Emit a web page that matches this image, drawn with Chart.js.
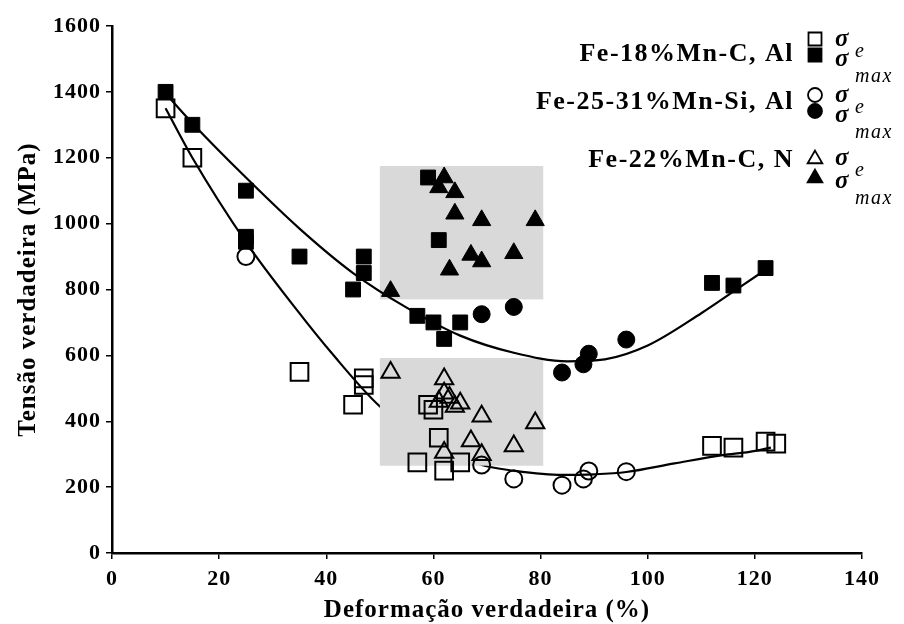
<!DOCTYPE html>
<html>
<head>
<meta charset="utf-8">
<script src="https://cdn.jsdelivr.net/npm/chart.js@4.4.0/dist/chart.umd.min.js"></script>
<style>
  html, body { margin: 0; padding: 0; background: #fff; }
</style>
</head>
<body>
<canvas id="stressChart" width="904" height="624"></canvas>
<script>
// ── Data ──────────────────────────────────────────────────────────────────────
// Fe-18%Mn-C, Al  (squares)
const sqYieldX = [10, 15, 35, 47, 47, 45, 59, 60, 61, 57, 62, 65, 112, 116, 122, 124];
const sqYieldY = [1350, 1200, 550, 530, 510, 450, 450, 435, 350, 275, 250, 275, 325, 320, 338, 332];
const sqMaxX   = [10, 15, 25, 25, 25, 35, 47, 47, 45, 57, 60, 62, 65, 59, 61, 112, 116, 122];
const sqMaxY   = [1400, 1300, 1100, 960, 945, 900, 900, 850, 800, 720, 700, 650, 700, 1140, 950, 820, 812, 865];

// Fe-25-31%Mn-Si, Al  (circles)
const ciYieldX = [25, 69, 75, 84, 88, 89, 96];
const ciYieldY = [900, 267, 225, 206, 225, 249, 247];
const ciMaxX   = [69, 75, 84, 88, 89, 96];
const ciMaxY   = [725, 747, 548, 573, 605, 648];

// Fe-22%Mn-C, N  (triangles)
const trYieldX = [52, 62, 62, 63, 61, 64, 65, 69, 79, 67, 75, 62, 69];
const trYieldY = [548, 528, 485, 472, 460, 445, 455, 415, 395, 340, 325, 305, 298];
const trMaxX   = [52, 62, 61, 64, 64, 69, 79, 63, 67, 69, 75];
const trMaxY   = [795, 1140, 1110, 1095, 1030, 1010, 1010, 860, 905, 885, 910];

// trend curves
const maxCurveX = [10, 15, 25, 35, 45, 55, 65, 75, 85, 92, 100, 110, 117, 122];
const maxCurveY = [1395, 1305, 1140, 985, 850, 745, 660, 608, 582, 588, 630, 728, 805, 860];
const yieldCurveX = [10, 15, 25, 34.5, 41, 50, 60, 69, 75, 84, 90, 96, 105, 114, 119, 123];
const yieldCurveY = [1350, 1200, 944, 738, 607, 445, 330, 267, 250, 237, 239, 246, 272, 297, 307, 320];

// shaded boxes  [x0, x1] / [y0, y1]
const upperBoxX = [50, 80.5];
const upperBoxY = [770, 1175];
const lowerBoxX = [50, 80.5];
const lowerBoxY = [265, 592];

// axis ticks and key
const xTicks = [0, 20, 40, 60, 80, 100, 120, 140];
const yTicks = [0, 200, 400, 600, 800, 1000, 1200, 1400, 1600];
const alloyNames = ["Fe-18%Mn-C, Al", "Fe-25-31%Mn-Si, Al", "Fe-22%Mn-C, N"];

// ── helpers ───────────────────────────────────────────────────────────────────
const pts = (xs, ys) => xs.map((x, i) => ({ x: x, y: ys[i] }));
const SERIF = '"Liberation Serif", "Times New Roman", serif';
const SPACING = "1px";   // the original uses a wide serif face

function markerSet(label, xs, ys, shape, filled, radius) {
    return {
        type: "scatter",
        label: label,
        data: pts(xs, ys),
        pointStyle: shape,
        pointRadius: radius,
        pointHoverRadius: radius,
        pointBorderWidth: filled ? 1 : 2,
        pointBorderColor: "#000",
        pointBackgroundColor: filled ? "#000" : "rgba(0,0,0,0)",
        order: 1
    };
}

function drawMark(ctx, shape, x, y, r, filled) {
    ctx.beginPath();
    if (shape === "rect") {
        ctx.rect(x - r, y - r, 2 * r, 2 * r);
    } else if (shape === "circle") {
        ctx.arc(x, y, r, 0, Math.PI * 2);
    } else {
        ctx.moveTo(x, y - r * 1.05);
        ctx.lineTo(x + r * 1.05, y + r * 0.75);
        ctx.lineTo(x - r * 1.05, y + r * 0.75);
        ctx.closePath();
    }
    if (filled) { ctx.fillStyle = "#000"; ctx.fill(); }
    ctx.lineWidth = 1.8;
    ctx.strokeStyle = "#000";
    ctx.stroke();
}

function fillBox(chart, bx, by) {
    const { ctx, scales: { x, y } } = chart;
    const x0 = x.getPixelForValue(bx[0]), x1 = x.getPixelForValue(bx[1]);
    const y0 = y.getPixelForValue(by[1]), y1 = y.getPixelForValue(by[0]);
    ctx.save();
    ctx.fillStyle = "#d9d9d9";
    ctx.fillRect(x0, y0, x1 - x0, y1 - y0);
    ctx.restore();
}

// ── plugins ───────────────────────────────────────────────────────────────────
const spacingPlugin = {
    id: "wideText",
    beforeUpdate(chart) { chart.ctx.letterSpacing = SPACING; },
    beforeDraw(chart)   { chart.ctx.letterSpacing = SPACING; }
};

const boxPlugin = {
    id: "boxes",
    beforeDatasetsDraw(chart) {
        fillBox(chart, upperBoxX, upperBoxY);
    },
    beforeDatasetDraw(chart, args) {
        // lower box covers the yield curve but sits under the max curve
        if (args.meta.label === "maxCurve") fillBox(chart, lowerBoxX, lowerBoxY);
    }
};

const keyPlugin = {
    id: "alloyKey",
    afterDraw(chart) {
        const ctx = chart.ctx;
        const shapes = ["rect", "circle", "triangle"];
        const nameY = [54, 102, 160];
        const openY = [39, 95, 158];
        const fillY = [55, 111, 177];
        ctx.save();
        ctx.fillStyle = "#000";
        ctx.textBaseline = "middle";
        alloyNames.forEach((name, i) => {
            ctx.letterSpacing = "1.5px";
            ctx.font = "bold 26px " + SERIF;
            ctx.textAlign = "right";
            ctx.fillText(name, 794, nameY[i]);

            const r = shapes[i] === "rect" ? 6.5 : 7;
            drawMark(ctx, shapes[i], 815, openY[i], r, false);
            drawMark(ctx, shapes[i], 815, fillY[i], r, true);

            ctx.letterSpacing = "0px";
            ctx.textAlign = "left";
            ctx.fillStyle = "#000";
            ctx.font = "bold italic 25px " + SERIF;
            ctx.fillText("σ", 835, openY[i] + 1);
            ctx.fillText("σ", 835, fillY[i] + 5);
            ctx.letterSpacing = "1.5px";
            ctx.font = "italic 20px " + SERIF;
            ctx.fillText("e", 855, openY[i] + 13);
            ctx.fillText("max", 855, fillY[i] + 22);
        });
        ctx.restore();
    }
};

// ── Chart setup ───────────────────────────────────────────────────────────────
const tickFont  = { family: SERIF, size: 22, weight: "bold" };
const titleFont = { family: SERIF, size: 25, weight: "bold" };

const ctx = document.getElementById("stressChart").getContext("2d");
const chart = new Chart(ctx, {
    type: "scatter",
    data: {
        datasets: [
            markerSet("sqYield", sqYieldX, sqYieldY, "rect", false, 12.5),
            markerSet("sqMax", sqMaxX, sqMaxY, "rect", true, 10.5),
            markerSet("ciYield", ciYieldX, ciYieldY, "circle", false, 8.5),
            markerSet("ciMax", ciMaxX, ciMaxY, "circle", true, 8.5),
            markerSet("trYield", trYieldX, trYieldY, "triangle", false, 10.5),
            markerSet("trMax", trMaxX, trMaxY, "triangle", true, 10.5),
            {
                type: "line",
                label: "maxCurve",
                data: pts(maxCurveX, maxCurveY),
                borderColor: "#000",
                borderWidth: 2.2,
                pointRadius: 0,
                fill: false,
                cubicInterpolationMode: "monotone",
                order: 2
            },
            {
                type: "line",
                label: "yieldCurve",
                data: pts(yieldCurveX, yieldCurveY),
                borderColor: "#000",
                borderWidth: 2.2,
                pointRadius: 0,
                fill: false,
                cubicInterpolationMode: "monotone",
                order: 3
            }
        ]
    },
    options: {
        responsive: false,
        animation: false,
        devicePixelRatio: 1,
        layout: { padding: { top: 26, right: 42, left: 0, bottom: 0 } },
        plugins: {
            legend: { display: false },
            tooltip: { enabled: false }
        },
        scales: {
            x: {
                type: "linear",
                min: xTicks[0],
                max: xTicks[xTicks.length - 1],
                afterBuildTicks: s => { s.ticks = xTicks.map(v => ({ value: v })); },
                afterFit: s => { s.height = 71; },
                ticks: { color: "#000", font: tickFont, padding: 7, maxRotation: 0, callback: v => String(v) },
                grid: { drawOnChartArea: false, tickLength: 6, color: "#000", lineWidth: 1.5 },
                border: { color: "#000", width: 2.5 },
                title: {
                    display: true,
                    text: "Deformação verdadeira (%)",
                    color: "#000",
                    font: titleFont,
                    padding: { top: 0, bottom: -2 }
                }
            },
            y: {
                type: "linear",
                min: yTicks[0],
                max: yTicks[yTicks.length - 1],
                afterBuildTicks: s => { s.ticks = yTicks.map(v => ({ value: v })); },
                afterFit: s => { s.width = 112; },
                ticks: { color: "#000", font: tickFont, padding: 5, callback: v => String(v) },
                grid: { drawOnChartArea: false, tickLength: 6, color: "#000", lineWidth: 1.5 },
                border: { color: "#000", width: 2.5 },
                title: {
                    display: true,
                    text: "Tensão verdadeira (MPa)",
                    color: "#000",
                    font: titleFont,
                    padding: { top: 14, bottom: 0 }
                }
            }
        }
    },
    plugins: [spacingPlugin, boxPlugin, keyPlugin]
});
</script>
</body>
</html>
